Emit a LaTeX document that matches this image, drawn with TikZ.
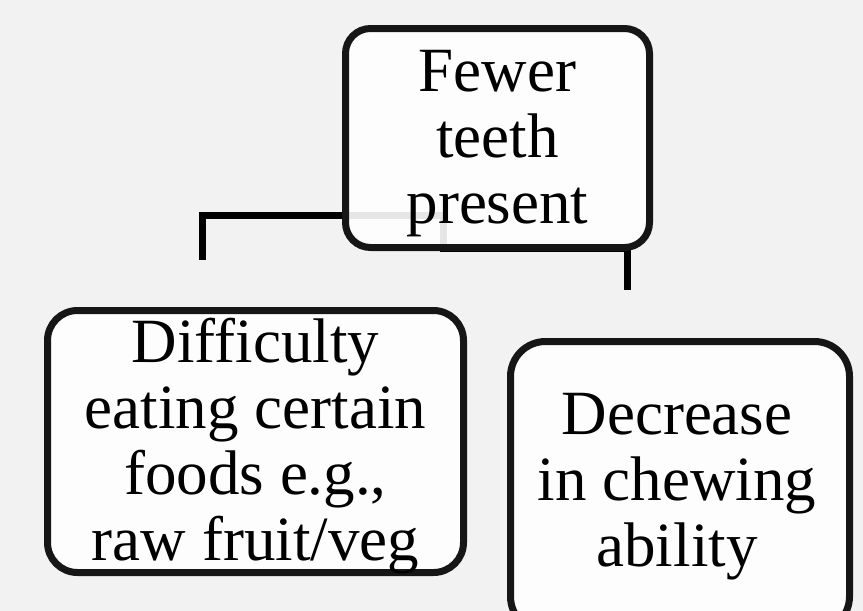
\documentclass[tikz,border=0pt]{standalone}
\usepackage{fontspec}
\setmainfont{Liberation Serif}
\definecolor{bg}{RGB}{242,242,242}
\definecolor{edge}{RGB}{22,22,22}
\begin{document}
\begin{tikzpicture}[x=1pt,y=-1pt,
  boxbase/.style={draw=edge,line width=7pt,fill=white,fill opacity=0.9,inner sep=0pt},
  conn/.style={draw=black,line width=7pt},
  label/.style={inner sep=0pt,align=center,font=\fontsize{63}{66}\selectfont,text=black}]
\fill[bg] (0,0) rectangle (863,611);
\useasboundingbox (0,0) rectangle (863,611);
% connectors (behind the boxes)
\coordinate (hub) at (443,215.5);
\coordinate (lend) at (202,260);
\coordinate (rturn) at (627,248);
\coordinate (rend) at (627,290);
\draw[conn] (hub) -| (lend);
\draw[conn] (hub) |- (rturn) -- (rend);
% boxes
\node[boxbase,rounded corners=25pt,minimum width=304pt,minimum height=219pt] (top) at (497.5,138) {};
\node[boxbase,rounded corners=30pt,minimum width=416pt,minimum height=262pt] (left) at (255.5,441.5) {};
\node[boxbase,rounded corners=35pt,minimum width=339pt,minimum height=290pt] (right) at (680,486.5) {};
% texts
\node[label] (toptext) at (497.5,143.5) {Fewer\\teeth\\present};
\node[label] (lefttext) at (255.5,446.4) {Difficulty\\eating certain\\foods e.g.,\\raw fruit/veg};
\node[label] (righttext) at (677,486.5) {Decrease\\in chewing\\ability};
\end{tikzpicture}
\end{document}
